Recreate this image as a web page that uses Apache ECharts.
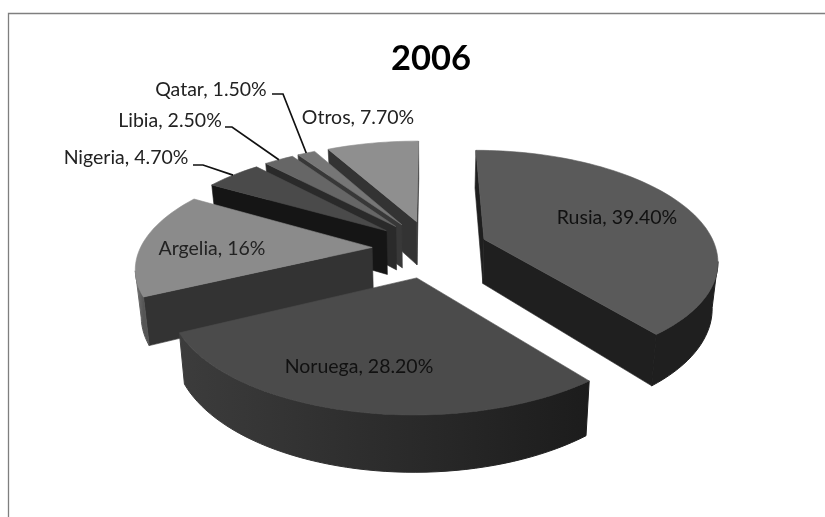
<!DOCTYPE html>
<html><head><meta charset="utf-8">
<style>html,body{margin:0;padding:0;background:#fff}#c{width:825px;height:517px}</style>
<script src="https://cdn.jsdelivr.net/npm/echarts@6/dist/echarts.min.js"></script>
</head><body><div id="c"></div>
<script>
const categories = ['Rusia','Noruega','Argelia','Nigeria','Libia','Qatar','Otros'];
const values = [39.4,28.2,16,4.7,2.5,1.5,7.7];
const valueLabels = ['39.40%','28.20%','16%','4.70%','2.50%','1.50%','7.70%'];
const topColors = ['#5a5a5a','#4b4b4b','#8b8b8b','#4a4a4a','#666666','#767676','#8f8f8f'];
const wallColors = ['#1f1f1f','#2c2c2c','#333333','#151515','#2a2a2a','#383838','#333333'];
const rimLeft = ['#1f1f1f','#3c3c3c','#757575','#151515','#2a2a2a','#383838','#333333'];
const rimRight = ['#1f1f1f','#1c1c1c','#555555','#151515','#2a2a2a','#383838','#555555'];
const sliceYScale = [1.05,1,1,1,1,1,1];
const drawOrder = [6,5,4,3,2,0,1];
const labelPos = [[617,218],[359,367],[212,249],[126,158],[170,121],[211,90],[358,118]];
const labelElbow = [null,null,null,[[193,165],[203,165]],[[225,127],[232,127]],[[272,94],[283,94]],null];

// pie projection parameters
const cx=430, cy=248.5, A=232, B=102.6, P=0.169, EX=0.25, EY=0.28, DEPTH=45, SHRINK=0.02;
const total = values.reduce((a,b)=>a+b,0);
const starts=[]; values.reduce((s,v,i)=>{starts[i]=s; return s+v/total*360;},0);
const rad=d=>d*Math.PI/180;
function proj(U,V){const w=1-P*V; return [cx+A*U/w, cy+B*V/w, w];}
function drop(p){return [p[0]-(p[0]-cx)*SHRINK, p[1]+DEPTH/p[2]];}
function slicePts(i){
  const a0=starts[i], a1=a0+values[i]/total*360, m=(a0+a1)/2, ys=sliceYScale[i];
  const ox=EX*Math.sin(rad(m)), oy=-EY*Math.cos(rad(m));
  const apex=proj(ox,oy), rim=[];
  const n=Math.max(4,Math.ceil((a1-a0)/2));
  for(let k=0;k<=n;k++){const t=a0+(a1-a0)*k/n; rim.push(proj(ox+Math.sin(rad(t)),oy-ys*Math.cos(rad(t))));}
  return {apex,rim,mid:proj(ox+Math.sin(rad(m)),oy-ys*Math.cos(rad(m)))};
}
function poly(points,fill){return {type:'polygon',silent:true,shape:{points:points.map(p=>[p[0],p[1]])},style:{fill,stroke:fill,lineWidth:0.6}};}
function wall(a,b,fill){return poly([a,b,drop(b),drop(a)],fill);}

function renderSlice(params){
  const i=drawOrder[params.dataIndex], s=slicePts(i), ch=[];
  const last=s.rim[s.rim.length-1], first=s.rim[0];
  if(first[0]-s.apex[0]<0.5) ch.push(wall(s.apex,first,wallColors[i]));
  const vis=[];
  for(let k=0;k<s.rim.length-1;k++){const a=s.rim[k],b=s.rim[k+1];
    if(b[0]-a[0]<0){ if(!vis.length) vis.push(a); vis.push(b); }}
  if(vis.length>1){
    const xs=vis.map(p=>p[0]), x0=Math.min.apply(null,xs), x1=Math.max.apply(null,xs);
    const grad={type:'linear',global:true,x:x0,y:0,x2:x1,y2:0,colorStops:[{offset:0,color:rimLeft[i]},{offset:1,color:rimRight[i]}]};
    const pts=vis.concat(vis.slice().reverse().map(drop));
    ch.push({type:'polygon',silent:true,shape:{points:pts.map(p=>[p[0],p[1]])},style:{fill:grad,stroke:grad,lineWidth:1}});
  }
  if(s.apex[0]-last[0]<0) ch.push(wall(last,s.apex,wallColors[i]));
  ch.push(poly([s.apex].concat(s.rim),topColors[i]));
  return {type:'group',children:ch};
}
function renderLabel(params){
  const i=params.dataIndex, ch=[];
  const dark=i<2;
  ch.push({type:'text',silent:true,style:{text:categories[i]+', '+valueLabels[i],x:labelPos[i][0],y:labelPos[i][1],
    align:'center',verticalAlign:'middle',fill:dark?'#111111':'#222222',font:'19.5px Lato'}});
  if(labelElbow[i]){const e=slicePts(i).mid;
    ch.push({type:'polyline',silent:true,shape:{points:labelElbow[i].concat([[e[0],e[1]]])},style:{fill:'none',stroke:'#111111',lineWidth:1.7}});}
  return {type:'group',children:ch};
}
const chart=echarts.init(document.getElementById('c'),null,{renderer:'canvas'});
chart.setOption({
  animation:false,backgroundColor:'#ffffff',
  title:{text:'2006',left:386,top:36,textStyle:{fontFamily:'Lato',fontWeight:'bold',fontSize:34.5,color:'#000000'}},
  graphic:[{type:'polyline',silent:true,shape:{points:[[8.5,517],[8.5,13.5],[825,13.5]]},style:{fill:'none',stroke:'#7f7f7f',lineWidth:1.3}}],
  series:[
    {type:'custom',coordinateSystem:'none',renderItem:renderSlice,data:drawOrder.map(i=>values[i]),z:2,silent:true},
    {type:'custom',coordinateSystem:'none',renderItem:renderLabel,data:categories.map((c,i)=>values[i]),z:3,silent:true}
  ]
});
</script></body></html>
